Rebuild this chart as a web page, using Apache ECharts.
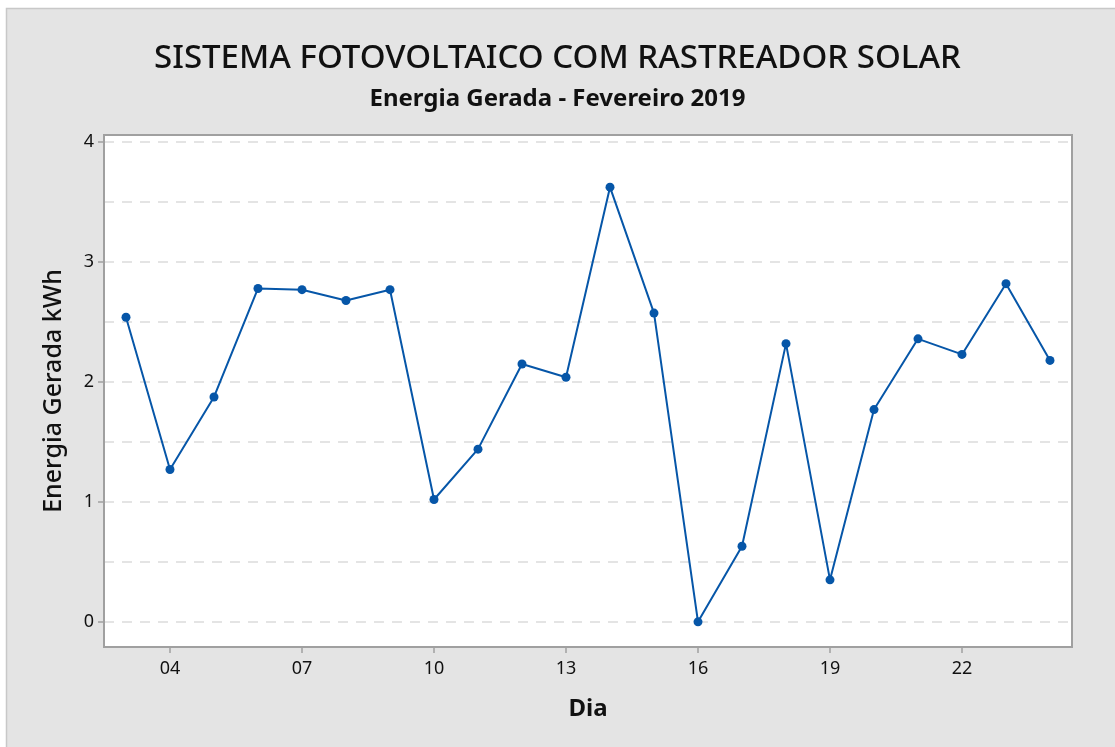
<!DOCTYPE html>
<html>
<head>
<meta charset="utf-8">
<script src="https://cdn.jsdelivr.net/npm/echarts@6/dist/echarts.min.js"></script>
<style>
html,body{margin:0;padding:0;background:#fff;}
#chart{width:1115px;height:747px;}
</style>
</head>
<body>
<div id="chart"></div>
<script>
const days = ['03','04','05','06','07','08','09','10','11','12','13','14','15','16','17','18','19','20','21','22','23','24'];
const energy = [2.54,1.27,1.875,2.78,2.77,2.68,2.77,1.02,1.44,2.15,2.04,3.625,2.575,0.0,0.63,2.32,0.35,1.77,2.36,2.23,2.82,2.18];
const yLabelValues = [0,1,2,3,4];
const yGridValues = [0,0.5,1,1.5,2,2.5,3,3.5,4];
const xLabelDays = ['04','07','10','13','16','19','22'];

const chart = echarts.init(document.getElementById('chart'), null, {renderer:'canvas'});
const fontFam = '"Noto Sans", "Open Sans", sans-serif';
const yMin = -0.21, yMax = 4.06;
const option = {
  backgroundColor:'#ffffff',
  animation:false,
  graphic:[{
    type:'rect', z:-100, silent:true,
    shape:{x:6.5,y:8.5,width:1120,height:750},
    style:{fill:'#e4e4e4',stroke:'#c8c8c8',lineWidth:1.5}
  }],
  title:[{
    text:'SISTEMA FOTOVOLTAICO COM RASTREADOR SOLAR',
    left:'center', top:37,
    textStyle:{fontFamily:fontFam,fontSize:33,fontWeight:500,color:'#111'}
  },{
    text:'Energia Gerada - Fevereiro 2019',
    left:'center', top:82,
    textStyle:{fontFamily:fontFam,fontSize:24,fontWeight:'bold',color:'#111'}
  }],
  grid:{
    left:104, top:135, right:43, bottom:100,
    show:true, backgroundColor:'#ffffff', borderColor:'#a0a0a0', borderWidth:2
  },
  xAxis:{
    type:'category',
    data:days,
    boundaryGap:true,
    axisLine:{show:true,onZero:false,lineStyle:{color:'#a0a0a0',width:2}},
    axisTick:{show:true,alignWithLabel:true,length:6,lineStyle:{color:'#a0a0a0',width:1.5},
      interval:(i,v)=>xLabelDays.indexOf(v)>=0},
    axisLabel:{interval:(i,v)=>xLabelDays.indexOf(v)>=0,fontFamily:fontFam,fontSize:18,color:'#111',margin:13},
    splitLine:{show:false},
    name:'Dia', nameLocation:'middle', nameGap:50,
    nameTextStyle:{fontFamily:fontFam,fontSize:24,fontWeight:'bold',color:'#111'}
  },
  yAxis:[{
    type:'value', min:yMin, max:yMax, position:'left',
    axisLine:{show:false},
    axisTick:{show:false,customValues:yGridValues},
    axisLabel:{show:false},
    splitLine:{show:true,lineStyle:{color:'#dcdcdc',type:[10,8],width:1.5}}
  },{
    type:'value', min:yMin, max:yMax, position:'left',
    axisLine:{show:true,onZero:false,lineStyle:{color:'#a0a0a0',width:2}},
    axisTick:{show:true,length:6,customValues:yLabelValues,lineStyle:{color:'#a0a0a0',width:1.5}},
    axisLabel:{customValues:yLabelValues,fontFamily:fontFam,fontSize:18,color:'#111',margin:10},
    splitLine:{show:false},
    name:'Energia Gerada kWh', nameLocation:'middle', nameGap:38,
    nameTextStyle:{fontFamily:fontFam,fontSize:25,fontWeight:500,color:'#111'}
  }],
  series:[{
    type:'line',
    data:energy,
    yAxisIndex:0,
    symbol:'circle', symbolSize:9,
    itemStyle:{color:'#0656a8'},
    lineStyle:{color:'#0656a8',width:2}
  }]
};
chart.setOption(option);
</script>
</body>
</html>
